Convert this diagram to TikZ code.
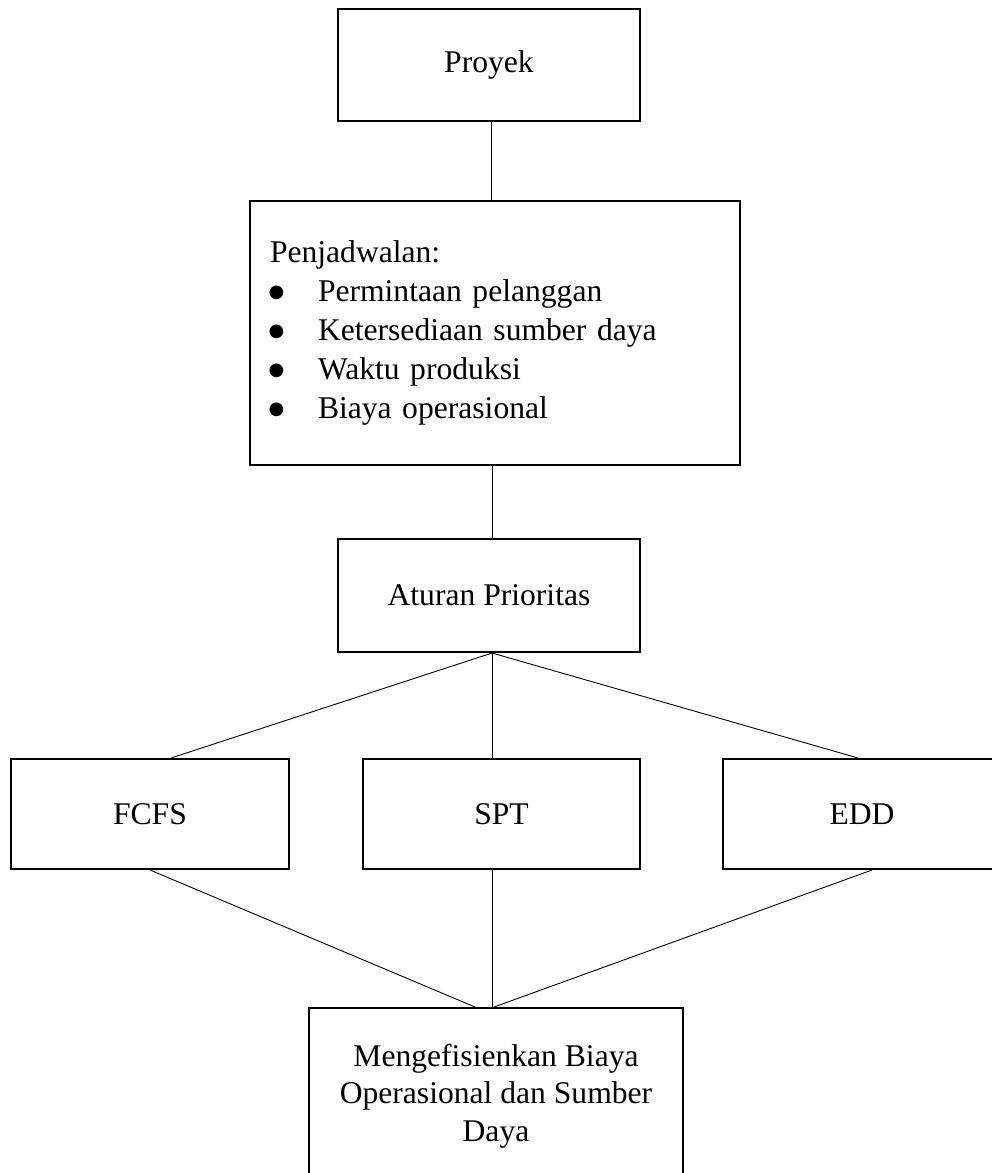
\documentclass[tikz,border=0pt]{standalone}
\usepackage{fontspec}
\setmainfont{Liberation Serif}
\newfontfamily\symfont{DejaVu Sans}
\usetikzlibrary{calc}
\newcommand{\bigbul}{\makebox[48pt][l]{\hspace{-1.5pt}\raisebox{4.5pt}{\symfont\fontsize{18}{39}\selectfont ●}}}
\begin{document}
\begin{tikzpicture}[x=1pt,y=-1pt,
  box/.style={draw, line width=2pt, rectangle, inner sep=0pt, font=\fontsize{31.6}{39}\selectfont},
  link/.style={line width=0.9pt}]
\useasboundingbox (0,0) rectangle (992,1173);
\clip (0,0) rectangle (992,1173);
\node[box, minimum width=302pt, minimum height=112pt] (proyek) at (489,65) {Proyek};
\node[box, minimum width=490pt, minimum height=264pt, text width=450pt, align=left, inner xsep=20pt] (penj) at (495,333) {Penjadwalan:\\
\bigbul Permintaan pelanggan\\
\bigbul Ketersediaan sumber daya\\
\bigbul Waktu produksi\\
\bigbul Biaya operasional};
\node[box, minimum width=302pt, minimum height=113pt] (aturan) at (489,595.5) {Aturan Prioritas};
\node[box, minimum width=278pt, minimum height=110pt] (fcfs) at (150,814) {FCFS};
\node[box, minimum width=277pt, minimum height=110pt] (spt) at (501.5,814) {SPT};
\node[box, minimum width=278pt, minimum height=110pt] (edd) at (862,814) {EDD};
\node[box, minimum width=374pt, minimum height=176pt, align=center, font=\fontsize{31.6}{37.5}\selectfont] (goal) at (496,1096) {Mengefisienkan Biaya\\Operasional dan Sumber\\Daya};
% connectors
\coordinate (s1) at ($(proyek.south)+(2.5,0)$);
\draw[link] (s1) -- (s1 |- penj.north);
\coordinate (s2) at ($(penj.south)+(-3,0)$);
\draw[link] (s2) -- (s2 |- aturan.north);
\coordinate (fork) at ($(aturan.south)+(3,0)$);
\draw[link] (fork) -- ($(fcfs.north)+(21,0)$);
\draw[link] (fork) -- (fork |- spt.north);
\draw[link] (fork) -- ($(edd.north)+(-4,0)$);
\draw[link] (fcfs.south) -- ($(goal.north)+(-21,0)$);
\draw[link] ($(spt.south)+(-9.5,0)$) -- ($(goal.north)+(-4,0)$);
\draw[link] ($(edd.south)+(10,0)$) -- ($(goal.north)+(-2,0)$);
\end{tikzpicture}
\end{document}
